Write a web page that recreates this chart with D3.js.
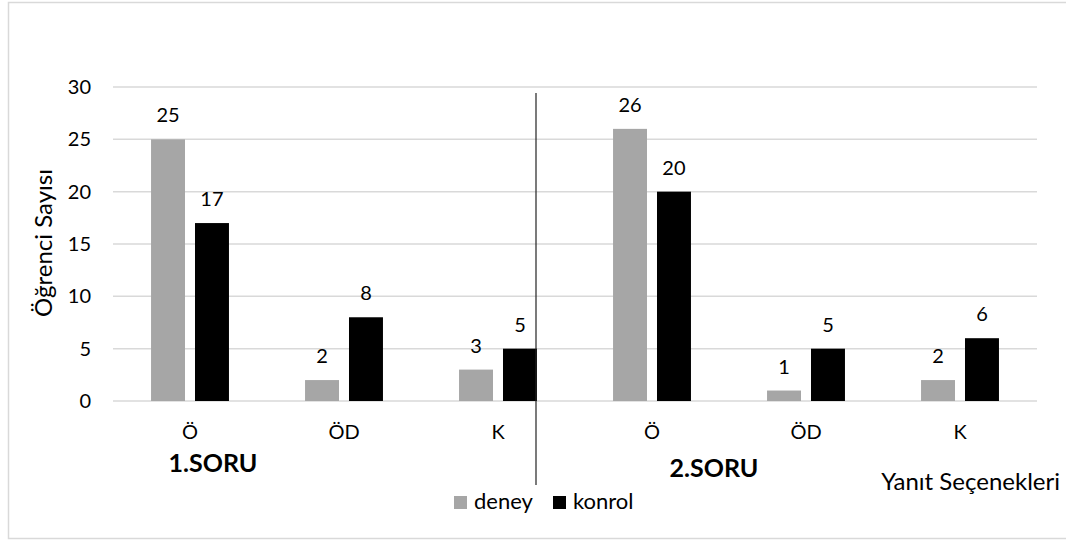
<!DOCTYPE html>
<html><head><meta charset="utf-8">
<script src="https://cdn.jsdelivr.net/npm/d3@7/dist/d3.min.js"></script>
<style>
body{margin:0;background:#fff;}
svg text{font-family:Lato,"Open Sans",sans-serif;fill:#000;}
</style></head>
<body><svg id="c" width="1066" height="540"></svg>
<script>
const categories = ["Ö","ÖD","K","Ö","ÖD","K"];
const deney = [25,2,3,26,1,2];
const konrol = [17,8,5,20,5,6];
const seriesNames = ["deney","konrol"];
const seriesColors = ["#a6a6a6","#000000"];
const yTicks = [0,5,10,15,20,25,30];
const groupLabels = ["1.SORU","2.SORU"];

const svg = d3.select("#c");
svg.append("rect").attr("x",8.5).attr("y",2.5).attr("width",1060).attr("height",536)
  .attr("fill","#fff").attr("stroke","#d9d9d9").attr("stroke-width",1.5);

const pLeft=113,pRight=1037,pTop=87,pBottom=401;
const y = d3.scaleLinear().domain([0,30]).range([pBottom,pTop]);
const idx = categories.map((d,i)=>i);
const x0 = d3.scaleBand().domain(idx).range([pLeft,pRight]).paddingInner(0.494).paddingOuter(0.247);
const x1 = d3.scaleBand().domain(seriesNames).range([0,x0.bandwidth()]).paddingInner(0.2273).paddingOuter(0);

// gridlines
svg.append("g").selectAll("line").data(yTicks).join("line")
  .attr("x1",pLeft).attr("x2",pRight).attr("y1",d=>y(d)).attr("y2",d=>y(d))
  .attr("stroke","#d9d9d9").attr("stroke-width",1.5);

// y axis labels
const yAxis = d3.axisLeft(y).tickValues(yTicks).tickSize(0).tickPadding(0);
const gy = svg.append("g").attr("transform",`translate(${pLeft-22},0)`).call(yAxis);
gy.select(".domain").remove();
gy.selectAll("text").attr("font-size",20).attr("font-family","Lato,'Open Sans',sans-serif");

// x axis labels
const xAxis = d3.axisBottom(x0).tickFormat(i=>categories[i]).tickSize(0).tickPadding(0);
const gx = svg.append("g").attr("transform",`translate(0,${pBottom+24})`).call(xAxis);
gx.select(".domain").remove();
gx.selectAll("text").attr("font-size",20).attr("font-family","Lato,'Open Sans',sans-serif");

// bars
const data = idx.map(i=>({i, vals:[deney[i],konrol[i]]}));
const g = svg.append("g").selectAll("g").data(data).join("g")
  .attr("transform",d=>`translate(${x0(d.i)},0)`);
g.selectAll("rect").data(d=>d.vals.map((v,k)=>({k,v}))).join("rect")
  .attr("x",d=>x1(seriesNames[d.k])).attr("width",x1.bandwidth())
  .attr("y",d=>y(d.v)).attr("height",d=>y(0)-y(d.v))
  .attr("fill",d=>seriesColors[d.k]);
g.selectAll("text.v").data(d=>d.vals.map((v,k)=>({k,v}))).join("text").attr("class","v")
  .attr("x",d=>x1(seriesNames[d.k])+x1.bandwidth()/2).attr("y",d=>y(d.v)-17)
  .attr("text-anchor","middle").attr("font-size",20).text(d=>d.v);

// separator line
svg.append("line").attr("x1",536).attr("x2",536).attr("y1",93).attr("y2",485)
  .attr("stroke","#222").attr("stroke-width",1.2);

// group labels
svg.append("text").attr("x",213).attr("y",472).attr("text-anchor","middle")
  .attr("font-size",25).attr("font-weight","bold").text(groupLabels[0]);
svg.append("text").attr("x",714).attr("y",477).attr("text-anchor","middle")
  .attr("font-size",25).attr("font-weight","bold").text(groupLabels[1]);

// axis titles
svg.append("text").attr("transform","translate(52,243) rotate(-90)").attr("text-anchor","middle")
  .attr("font-size",24).text("Öğrenci Sayısı");
svg.append("text").attr("x",1060).attr("y",490).attr("text-anchor","end")
  .attr("font-size",24).text("Yanıt Seçenekleri");

// legend
const lg = svg.append("g");
const lx = [454,553];
seriesNames.forEach((s,k)=>{
  lg.append("rect").attr("x",lx[k]).attr("y",496).attr("width",13).attr("height",13).attr("fill",seriesColors[k]);
  lg.append("text").attr("x",lx[k]+20).attr("y",509).attr("font-size",22).text(s);
});
</script></body></html>
